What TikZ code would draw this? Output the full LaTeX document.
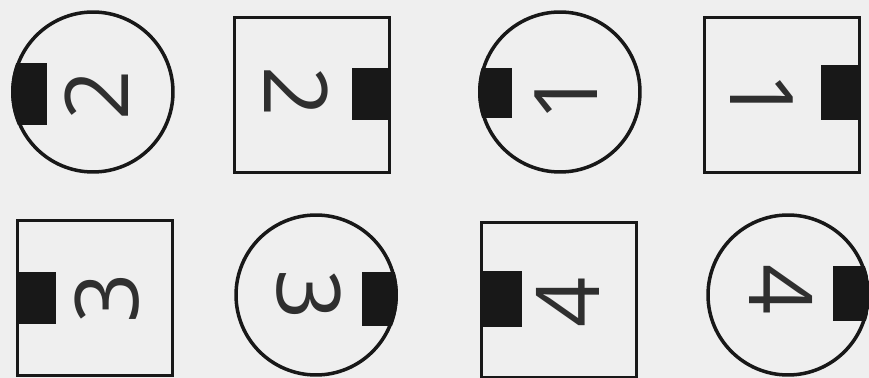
\documentclass[tikz,border=0pt]{standalone}
\usepackage{fontspec}
\newfontfamily\handfont{Open Sans}
\usetikzlibrary{calc}
\definecolor{scanbg}{RGB}{239,239,239}
\definecolor{inkblk}{RGB}{24,24,24}
\tikzset{
  disc/.style={draw=inkblk, line width=2pt, circle, minimum size=3.2cm, inner sep=0pt, outer sep=0pt},
  plate/.style={draw=inkblk, line width=1.8pt, rectangle, minimum size=3.1cm, inner sep=0pt, outer sep=0pt},
  digit/.style={font=\handfont\fontsize{50}{54}\selectfont, text=inkblk!90!white, inner sep=0pt},
  pad/.style={fill=inkblk},
}
\begin{document}
\begin{tikzpicture}[x=0.02cm, y=-0.02cm]
  \fill[scanbg] (0,0) rectangle (869,378);
  \useasboundingbox (0,0) rectangle (869,378);

  \node[disc] (c1) at (93,92) {};
  \begin{scope} \clip (c1.center) circle (82);
    \fill[pad] ($(c1.west)+(-2,-29)$) rectangle ($(c1.west)+(34,33)$); \end{scope}
  \node[digit, rotate=90] (n1) at (97,95) {2};

  \node[plate] (s2) at (312,95) {};
  \fill[pad] ($(s2.east)+(-37,-27)$) rectangle ($(s2.east)+(1,25)$);
  \node[digit, rotate=-90] (n2) at (296,92) {2};

  \node[disc] (c3) at (560,92) {};
  \begin{scope} \clip (c3.center) circle (82);
    \fill[pad] ($(c3.west)+(-2,-24)$) rectangle ($(c3.west)+(32,26)$); \end{scope}
  \node[digit, rotate=90] (n3) at (566,96) {1};

  \node[plate] (s4) at (782,95) {};
  \fill[pad] ($(s4.east)+(-38,-30)$) rectangle ($(s4.east)+(1,25)$);
  \node[digit, rotate=-90] (n4) at (762,98) {1};

  \node[plate] (s5) at (95,298) {};
  \fill[pad] ($(s5.west)+(-1,-26)$) rectangle ($(s5.west)+(38,26)$);
  \node[digit, rotate=90] (n5) at (107,298) {3};

  \node[disc] (c6) at (316,295) {};
  \begin{scope} \clip (c6.center) circle (82);
    \fill[pad] ($(c6.east)+(-34,-23)$) rectangle ($(c6.east)+(2,31)$); \end{scope}
  \node[digit, rotate=-90] (n6) at (309,295) {3};

  \node[plate] (s7) at (559,300) {};
  \fill[pad] ($(s7.west)+(-1,-29)$) rectangle ($(s7.west)+(40,27)$);
  \node[digit, rotate=90] (n7) at (568,302) {4};

  \node[disc] (c8) at (788,295) {};
  \begin{scope} \clip (c8.center) circle (82);
    \fill[pad] ($(c8.east)+(-35,-29)$) rectangle ($(c8.east)+(2,26)$); \end{scope}
  \node[digit, rotate=-90] (n8) at (781,290) {4};
\end{tikzpicture}
\end{document}
